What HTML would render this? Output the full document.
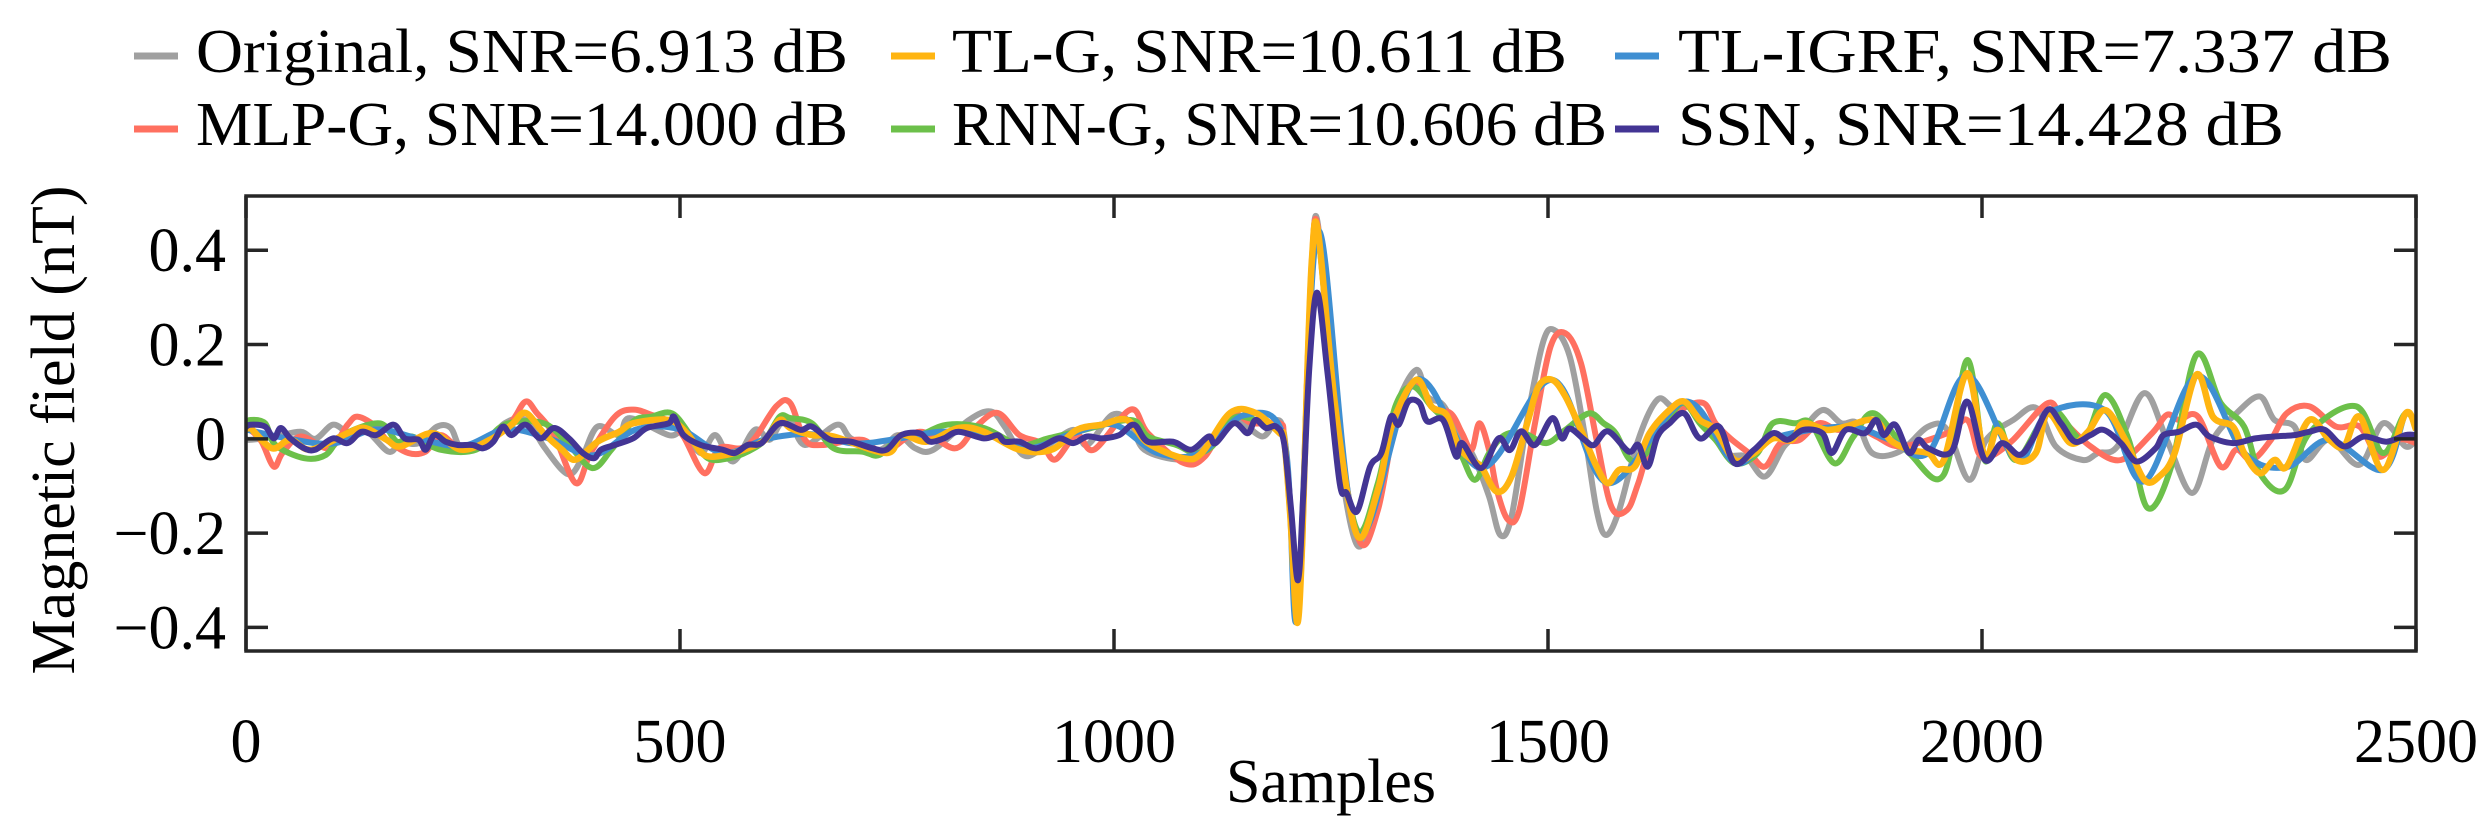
<!DOCTYPE html>
<html><head><meta charset="utf-8"><style>
html,body{margin:0;padding:0;background:#fff;}
svg{display:block;}
text{font-family:"Liberation Serif",serif;fill:#000;}
</style></head><body>
<svg id="chart" width="2487" height="836" viewBox="0 0 2487 836">
<g id="legend"></g>
<g id="plot"></g>
<g id="axes"></g>
<text x="1331" y="802" font-size="62" text-anchor="middle">Samples</text>
<text x="0" y="0" font-size="62" text-anchor="middle" transform="translate(74,430) rotate(-90)">Magnetic field (nT)</text>
</svg>
<script>
const xTicks=[0,500,1000,1500,2000,2500];
const xTickLabels=["0","500","1000","1500","2000","2500"];
const yTicks=[0.4,0.2,0,-0.2,-0.4];
const yTickLabels=["0.4","0.2","0","\u22120.2","\u22120.4"];
const seriesNames=["Original, SNR=6.913 dB","TL-G, SNR=10.611 dB","TL-IGRF, SNR=7.337 dB","MLP-G, SNR=14.000 dB","RNN-G, SNR=10.606 dB","SSN, SNR=14.428 dB"];

const origS=[0,5,34,63,80,100,117,137,164,178,199,220,236,248,273,298,322,343,364,376,388,405,430,442,487,504,524,541,561,586,603,615,627,644,681,697,730,751,771,792,833,858,874,895,916,953,969,998,1019,1035,1076,1101,1122,1142,1171,1187,1196,1203,1211,1217,1222,1228,1235,1255,1280,1304,1324,1348,1361,1379,1397,1414,1432,1445,1458,1476,1494,1507,1525,1542,1556,1567,1582,1604,1626,1644,1666,1684,1706,1728,1750,1772,1790,1816,1838,1856,1874,1905,1938,1960,1985,2005,2036,2063,2085,2116,2134,2156,2187,2213,2242,2266,2293,2320,2337,2360,2373,2400,2435,2462,2488,2500];
const origV=[0.0,-0.002,0.005,0.015,0.0,0.03,0.015,0.02,-0.027,-0.009,-0.009,0.026,0.023,-0.02,-0.016,0.033,0.04,-0.016,-0.066,-0.073,-0.037,0.026,0.008,0.044,0.008,0.015,-0.03,0.008,-0.048,0.019,-0.002,0.03,0.04,-0.013,0.03,0.001,-0.023,0.008,-0.02,-0.023,0.04,0.058,0.026,-0.034,-0.023,0.019,-0.013,0.051,0.033,-0.023,-0.044,-0.023,0.008,0.04,0.005,0.04,0.01,-0.14,-0.36,-0.2,0.1,0.37,0.454,0.033,-0.225,-0.108,0.061,0.146,0.09,0.072,0.012,-0.037,-0.122,-0.204,-0.165,0.04,0.203,0.231,0.175,0.012,-0.151,-0.204,-0.151,-0.002,0.083,0.068,0.076,0.033,-0.031,-0.038,-0.08,-0.016,0.012,0.061,0.033,0.033,-0.031,-0.027,0.026,0.019,-0.087,-0.002,0.04,0.065,-0.016,-0.045,-0.03,-0.016,0.097,-0.002,-0.115,-0.002,0.054,0.09,0.04,0.026,-0.045,-0.002,-0.055,0.033,-0.016,0.0];

const tlgS=[0,5,30,51,75,117,137,162,178,215,248,281,306,322,343,364,380,405,430,446,487,508,528,553,578,598,615,627,652,677,738,755,784,821,850,891,928,957,986,1015,1039,1080,1101,1134,1163,1191,1196,1203,1211,1217,1222,1228,1235,1255,1280,1304,1321,1348,1366,1383,1397,1412,1423,1441,1458,1476,1489,1505,1520,1538,1556,1569,1582,1600,1617,1640,1657,1675,1693,1715,1737,1759,1781,1794,1821,1843,1876,1894,1916,1938,1956,1983,2003,2018,2040,2062,2076,2102,2122,2142,2165,2187,2204,2222,2247,2266,2289,2302,2320,2337,2351,2377,2400,2417,2435,2462,2488,2500];
const tlgV=[0.02,0.023,-0.02,-0.002,-0.023,0.012,0.023,-0.002,-0.016,0.012,-0.023,-0.002,0.03,0.055,0.012,-0.023,-0.044,-0.006,0.015,0.033,0.04,0.012,-0.034,-0.034,-0.02,-0.002,0.04,0.023,0.008,0.005,-0.03,0.008,-0.006,0.023,0.015,-0.023,-0.023,0.019,0.03,0.04,-0.009,-0.041,-0.03,0.055,0.055,0.012,0.0,-0.16,-0.39,-0.21,0.1,0.38,0.44,0.068,-0.204,-0.108,0.033,0.125,0.068,0.051,-0.016,-0.045,-0.059,-0.112,-0.08,0.033,0.111,0.125,0.09,0.019,-0.059,-0.094,-0.066,-0.059,0.012,0.061,0.079,0.04,0.019,-0.045,-0.031,0.001,-0.002,0.033,0.019,0.026,0.04,-0.002,-0.023,-0.03,-0.045,0.139,-0.038,0.019,-0.045,-0.03,0.054,-0.009,0.015,0.061,-0.002,-0.087,-0.08,-0.03,0.136,0.047,0.026,-0.03,-0.073,-0.045,-0.059,0.04,-0.002,-0.016,0.047,-0.066,0.054,0.02];

const igrfS=[0,50,100,150,200,250,300,350,400,450,500,550,600,650,700,750,800,850,900,950,1000,1050,1100,1150,1196,1211,1235,1280,1348,1423,1505,1569,1657,1715,1759,1843,1894,1938,1983,2040,2076,2142,2187,2247,2302,2351,2400,2462,2488,2500];
const igrfV=[0.02,0.0,-0.01,0.02,0.0,-0.015,0.02,0.0,-0.035,0.02,0.02,-0.03,0.0,0.01,-0.01,0.0,0.015,0.01,-0.02,0.01,0.03,-0.03,-0.03,0.05,0.0,-0.38,0.44,-0.2,0.125,-0.062,0.125,-0.094,0.079,-0.05,0.001,0.026,-0.002,-0.03,0.135,-0.045,0.054,0.06,-0.09,0.133,-0.03,-0.06,-0.002,-0.066,0.054,0.02];

const mlpS=[0,5,18,32,42,63,96,117,129,150,162,187,207,224,248,281,306,322,335,355,380,397,425,446,467,487,504,528,545,570,586,611,627,644,664,710,734,776,817,841,866,891,916,932,957,977,1019,1039,1080,1105,1134,1159,1191,1196,1203,1211,1217,1222,1228,1235,1255,1282,1304,1326,1348,1366,1388,1401,1412,1421,1432,1441,1454,1467,1485,1503,1520,1538,1556,1573,1591,1604,1622,1653,1679,1693,1710,1732,1750,1768,1790,1812,1834,1856,1878,1907,1960,1983,1996,2009,2036,2076,2093,2125,2160,2196,2213,2227,2249,2275,2293,2311,2333,2351,2377,2408,2435,2457,2480,2500];
const mlpV=[0.02,0.019,-0.006,-0.059,-0.03,0.005,-0.02,0.03,0.047,0.026,-0.002,-0.03,-0.027,0.008,-0.02,0.001,0.037,0.079,0.055,0.008,-0.094,-0.03,0.047,0.062,0.051,0.037,0.005,-0.073,-0.02,-0.02,0.001,0.069,0.076,-0.002,-0.013,-0.002,-0.03,0.015,-0.02,0.026,0.055,0.008,-0.009,-0.044,0.008,-0.023,0.062,0.012,-0.051,-0.037,0.051,0.033,0.033,0.0,-0.15,-0.37,-0.2,0.1,0.38,0.447,0.068,-0.214,-0.151,0.054,0.121,0.068,0.054,0.012,-0.023,0.033,-0.023,-0.108,-0.172,-0.151,0.033,0.196,0.224,0.16,-0.002,-0.144,-0.151,-0.094,0.005,0.061,0.076,0.033,0.001,-0.031,-0.059,-0.009,-0.002,0.033,0.019,0.026,0.005,-0.016,0.012,0.04,-0.03,-0.038,-0.002,0.076,0.04,-0.016,-0.045,0.012,0.051,0.04,0.047,-0.059,-0.023,-0.045,-0.002,0.054,0.069,0.026,0.026,-0.038,-0.002,-0.009];

const rnnS=[0,5,22,34,67,92,112,154,174,191,224,265,298,343,372,399,421,446,467,491,512,532,557,578,598,615,627,652,677,710,730,755,776,808,850,891,924,957,1019,1039,1072,1093,1113,1138,1163,1179,1191,1196,1203,1211,1217,1222,1228,1235,1255,1280,1304,1324,1344,1366,1383,1401,1416,1432,1450,1472,1498,1520,1547,1564,1578,1595,1613,1640,1657,1675,1693,1715,1741,1759,1785,1803,1830,1852,1876,1916,1956,1983,2003,2018,2040,2080,2116,2142,2169,2191,2218,2247,2275,2302,2320,2349,2377,2431,2462,2488,2504];
const rnnV=[0.03,0.04,0.033,-0.013,-0.041,-0.034,0.008,0.033,-0.006,0.005,-0.023,-0.023,0.03,0.033,-0.013,-0.062,-0.023,0.037,0.047,0.054,0.008,-0.041,-0.041,-0.027,-0.002,0.047,0.044,0.033,-0.02,-0.027,-0.034,0.008,0.008,0.03,0.023,-0.013,0.001,0.015,0.04,0.005,-0.013,-0.03,-0.016,0.044,0.04,0.03,0.012,0.0,-0.16,-0.38,-0.21,0.1,0.37,0.436,0.068,-0.193,-0.094,0.068,0.111,0.068,0.033,-0.038,-0.087,-0.031,0.008,0.012,-0.009,0.019,0.054,0.033,0.012,-0.045,-0.031,0.047,0.076,0.033,-0.002,-0.052,-0.031,0.033,0.033,0.033,-0.052,0.005,0.054,-0.03,-0.076,0.167,-0.045,0.033,-0.045,0.061,-0.002,0.093,-0.002,-0.147,-0.059,0.178,0.076,0.026,-0.073,-0.108,0.012,0.069,-0.03,0.054,0.012];

const ssnS=[0,5,22,32,40,51,67,80,100,117,133,150,170,183,199,207,217,230,244,261,273,285,296,306,322,339,355,372,388,401,409,425,446,462,487,493,504,524,549,563,578,594,615,639,652,673,697,722,738,755,776,788,804,821,850,866,874,891,911,936,953,969,986,1006,1023,1039,1068,1089,1109,1117,1138,1154,1163,1175,1187,1196,1204,1212,1218,1225,1234,1246,1260,1268,1280,1295,1308,1319,1328,1339,1352,1361,1379,1394,1401,1423,1443,1456,1469,1485,1505,1516,1525,1542,1553,1569,1593,1604,1615,1626,1640,1657,1675,1697,1715,1737,1759,1776,1794,1816,1827,1843,1865,1878,1887,1900,1916,1927,1938,1965,1983,2003,2023,2043,2058,2076,2091,2107,2125,2140,2160,2178,2200,2209,2227,2247,2262,2289,2315,2337,2360,2377,2395,2417,2440,2466,2488,2500];
const ssnV=[0.025,0.03,0.026,0.001,0.023,0.001,-0.02,-0.023,0.001,-0.009,0.015,0.008,0.03,0.001,-0.002,-0.023,0.008,-0.006,-0.013,-0.013,-0.02,-0.006,0.026,0.008,0.03,0.001,0.023,0.001,-0.03,-0.041,-0.023,-0.013,0.001,0.023,0.033,0.047,0.008,-0.013,-0.023,-0.03,-0.013,-0.009,0.033,0.019,0.026,-0.002,-0.006,-0.02,-0.023,0.008,0.012,-0.006,0.001,0.015,0.001,0.008,-0.006,-0.006,-0.02,0.001,-0.009,0.005,0.001,0.008,0.03,-0.006,-0.006,-0.023,0.005,-0.009,0.033,0.012,0.04,0.023,0.026,-0.009,-0.15,-0.3,-0.12,0.15,0.31,0.14,-0.094,-0.115,-0.154,-0.059,-0.03,0.047,0.03,0.079,0.076,0.037,0.04,-0.037,-0.009,-0.062,0.001,-0.024,0.016,-0.013,0.044,0.001,0.022,-0.002,-0.013,0.016,-0.027,-0.013,-0.059,0.005,0.033,0.054,0.001,0.026,-0.052,-0.024,0.012,-0.002,0.019,0.012,-0.03,0.019,0.012,0.04,0.008,0.03,-0.03,-0.002,-0.02,-0.027,0.079,-0.044,-0.009,-0.034,-0.002,0.062,0.033,-0.006,0.008,0.019,-0.009,-0.048,-0.02,0.008,0.015,0.03,0.005,-0.009,0.001,0.005,0.008,0.015,0.019,-0.016,0.005,-0.006,0.008,0.008];

const NS="http://www.w3.org/2000/svg";
const L=246,R=2416,T=196,B=651,XMIN=0,XMAX=2500,YMIN=-0.45,YMAX=0.515;
function sx(s){return L+(s-XMIN)*(R-L)/(XMAX-XMIN);}
function sy(v){return T+(YMAX-v)*(B-T)/(YMAX-YMIN);}
function mk(tag,attrs,parent){const e=document.createElementNS(NS,tag);for(const k in attrs)e.setAttribute(k,attrs[k]);parent.appendChild(e);return e;}
function pathD(S,V){
  const p=S.map((s,i)=>[sx(s),sy(V[i])]);
  let d="M"+p[0][0].toFixed(1)+","+p[0][1].toFixed(1);
  for(let i=0;i<p.length-1;i++){
    const p0=p[Math.max(0,i-1)],p1=p[i],p2=p[i+1],p3=p[Math.min(p.length-1,i+2)];
    const c1x=p1[0]+(p2[0]-p0[0])/6,c1y=p1[1]+(p2[1]-p0[1])/6;
    const c2x=p2[0]-(p3[0]-p1[0])/6,c2y=p2[1]-(p3[1]-p1[1])/6;
    d+="C"+c1x.toFixed(1)+","+c1y.toFixed(1)+" "+c2x.toFixed(1)+","+c2y.toFixed(1)+" "+p2[0].toFixed(1)+","+p2[1].toFixed(1);
  }
  return d;
}
const plot=document.getElementById('plot');
const axes=document.getElementById('axes');
const legend=document.getElementById('legend');
const defs=mk('defs',{},plot);
const cp=mk('clipPath',{id:'clip'},defs);
mk('rect',{x:L,y:T,width:R-L,height:B-T},cp);
const lg=mk('g',{'clip-path':'url(#clip)'},plot);

const draw=[
 [origS,origV,'#a0a0a0','line-original',6],
 [mlpS,mlpV,'#ff7060','line-mlp-g',6],
 [rnnS,rnnV,'#6cc04a','line-rnn-g',6],
 [igrfS,igrfV,'#3f8fd2','line-tl-igrf',6],
 [tlgS,tlgV,'#ffb511','line-tl-g',6.5],
 [ssnS,ssnV,'#433594','line-ssn',6]
];
draw.forEach(d=>{
  const p=mk('path',{d:pathD(d[0],d[1]),fill:'none',stroke:d[2],'stroke-width':d[4],'stroke-linejoin':'round'},lg);
  
  
});

const box=mk('rect',{x:L,y:T,width:R-L,height:B-T,fill:'none',stroke:'#262626','stroke-width':3.5},axes);


xTicks.forEach((t,i)=>{
  const x=sx(t);
  mk('line',{x1:x,y1:B,x2:x,y2:B-22,stroke:'#262626','stroke-width':3.5},axes);
  mk('line',{x1:x,y1:T,x2:x,y2:T+22,stroke:'#262626','stroke-width':3.5},axes);
  const tx=mk('text',{x:x,y:762,'font-size':62,'text-anchor':'middle'},axes);
  tx.textContent=xTickLabels[i];
  
  
});
yTicks.forEach((t,i)=>{
  const y=sy(t);
  mk('line',{x1:L,y1:y,x2:L+22,y2:y,stroke:'#262626','stroke-width':3.5},axes);
  mk('line',{x1:R,y1:y,x2:R-22,y2:y,stroke:'#262626','stroke-width':3.5},axes);
  const tx=mk('text',{x:226,y:y+21,'font-size':62,'text-anchor':'end'},axes);
  tx.textContent=yTickLabels[i];
  
  
});

const legItems=[
 [134,56,196,848,'#a0a0a0',0,72],
 [891,56,952,1567,'#ffb511',1,72],
 [1615,56,1678,2392,'#3f8fd2',2,72],
 [134,129,196,848,'#ff7060',3,145],
 [891,129,952,1607,'#6cc04a',4,145],
 [1615,129,1678,2284,'#433594',5,145]
];
legItems.forEach(it=>{
  const g=mk('g',{},legend);
  
  
  mk('line',{x1:it[0],y1:it[1],x2:it[0]+44,y2:it[1],stroke:it[4],'stroke-width':7},g);
  const tx=mk('text',{x:it[2],y:it[6],'font-size':62,textLength:it[3]-it[2],lengthAdjust:'spacingAndGlyphs'},g);
  tx.textContent=seriesNames[it[5]];
});
</script>
</body></html>
